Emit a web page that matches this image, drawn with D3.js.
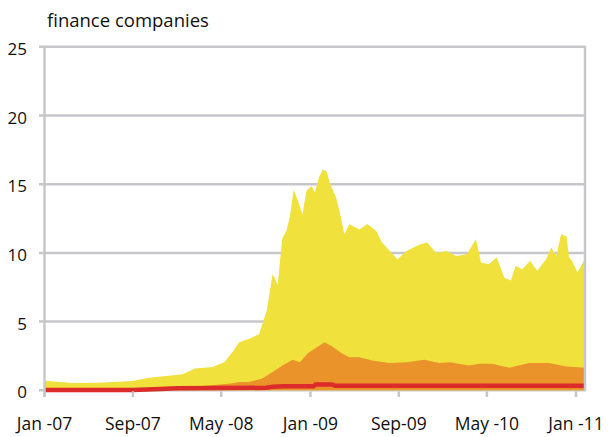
<!DOCTYPE html>
<html>
<head>
<meta charset="utf-8">
<script src="https://cdn.jsdelivr.net/npm/d3@7"></script>
<style>
  body { margin: 0; background: #fff; }
  text { font-family: "Open Sans", sans-serif; fill: #111; }
</style>
</head>
<body>
<div id="chart"></div>
<script>
// Tick labels as printed on the chart
var tickDates = ["2007-01-01", "2007-09-01", "2008-05-01", "2009-01-01", "2009-09-01", "2010-05-01", "2011-01-01"];
var tickLabels = ["Jan -07", "Sep-07", "May -08", "Jan -09", "Sep-09", "May -10", "Jan -11"];
var yTicks = [0, 5, 10, 15, 20, 25];

// Yellow series (top envelope)
var yellowDates = ["2007-01-02", "2007-03-18", "2007-06-01", "2007-08-31", "2007-10-16", "2008-01-16",
  "2008-02-18", "2008-04-07", "2008-05-09", "2008-06-01", "2008-06-19", "2008-07-16", "2008-08-13",
  "2008-09-03", "2008-09-19", "2008-10-03", "2008-10-16", "2008-10-27", "2008-11-06", "2008-11-16", "2008-12-03",
  "2008-12-10", "2008-12-21", "2009-01-04", "2009-01-13", "2009-01-24", "2009-02-04", "2009-02-15",
  "2009-02-23", "2009-03-13", "2009-03-26", "2009-04-04", "2009-04-18", "2009-05-16", "2009-06-06",
  "2009-07-01", "2009-07-17", "2009-08-12", "2009-08-28", "2009-09-22", "2009-10-27", "2009-11-18",
  "2009-12-13", "2010-01-10", "2010-02-06", "2010-03-07", "2010-04-01", "2010-04-15", "2010-05-06",
  "2010-05-28", "2010-06-18", "2010-07-06", "2010-07-19", "2010-08-06", "2010-08-28", "2010-09-16",
  "2010-10-11", "2010-10-25", "2010-11-08", "2010-11-21", "2010-12-06", "2010-12-13", "2010-12-21",
  "2011-01-05", "2011-01-25"];
var yellowValues = [0.70, 0.53, 0.55, 0.67, 0.92, 1.16,
  1.59, 1.69, 2.05, 2.78, 3.50, 3.74, 4.10,
  5.80, 8.46, 7.70, 11.1, 11.6, 12.7, 14.6, 13.4,
  12.8, 14.5, 14.86, 14.4, 15.46, 16.07, 15.9,
  15.1, 14.0, 12.56, 11.36, 12.08, 11.7, 12.1,
  11.6, 10.75, 10.0, 9.54, 10.14, 10.6, 10.75,
  10.0, 10.14, 9.78, 9.9, 11.0, 9.3, 9.18,
  9.66, 8.2, 8.0, 9.06, 8.8, 9.42, 8.7,
  9.54, 10.4, 9.78, 11.36, 11.2, 9.66, 9.42,
  8.57, 9.54];

// Orange series
var orangeDates = ["2007-01-02", "2007-10-16", "2007-12-02", "2008-03-02", "2008-05-28", "2008-06-19",
  "2008-07-16", "2008-08-22", "2008-09-19", "2008-10-16", "2008-11-13", "2008-12-03", "2008-12-25",
  "2009-01-19", "2009-02-09", "2009-03-02", "2009-03-28", "2009-04-18", "2009-05-16", "2009-06-19",
  "2009-08-06", "2009-09-22", "2009-11-10", "2009-12-22", "2010-01-19", "2010-03-13", "2010-04-09",
  "2010-05-15", "2010-07-01", "2010-08-25", "2010-10-19", "2010-12-06", "2011-01-25"];
var orangeValues = [0.05, 0.10, 0.20, 0.30, 0.50, 0.60,
  0.60, 0.85, 1.33, 1.81, 2.22, 2.05, 2.70,
  3.14, 3.50, 3.19, 2.70, 2.41, 2.41, 2.17,
  1.98, 2.05, 2.22, 1.98, 2.05, 1.81, 1.93,
  1.93, 1.64, 1.98, 1.98, 1.74, 1.64];

// Red series
var redDates = ["2007-01-02", "2007-09-01", "2007-11-15", "2008-01-01", "2008-09-01", "2008-09-20",
  "2008-10-20", "2009-01-10", "2009-01-15", "2009-03-01", "2009-03-10", "2011-01-25"];
var redValues = [0.02, 0.02, 0.10, 0.15, 0.18, 0.25,
  0.30, 0.30, 0.43, 0.43, 0.33, 0.33];

var svgWidth = 608;
var svgHeight = 437;

var parse = d3.timeParse("%Y-%m-%d");

var svg = d3.select("#chart")
  .append("svg")
  .attr("width", svgWidth)
  .attr("height", svgHeight);

var xScale = d3.scaleTime()
  .domain([parse("2007-01-01"), parse("2011-01-01")])
  .range([44.5, 576]);

var yScale = d3.scaleLinear()
  .domain([0, 25])
  .range([390.3, 46.8]);

var frameRight = 585;
var gridColor = "#c7c7cb";

// horizontal gridlines
svg.append("g")
  .selectAll("line")
  .data(yTicks)
  .enter()
  .append("line")
  .attr("x1", 39)
  .attr("x2", frameRight)
  .attr("y1", d => yScale(d))
  .attr("y2", d => yScale(d))
  .attr("stroke", gridColor)
  .attr("stroke-width", 2.5);

// y labels
svg.append("g")
  .selectAll("text")
  .data(yTicks)
  .enter()
  .append("text")
  .attr("x", 27)
  .attr("y", d => yScale(d) + 8)
  .attr("text-anchor", "end")
  .attr("font-size", "17px")
  .text(d => d);

// series
function toPoints(dates, values) {
  return dates.map((d, i) => ({ date: parse(d), value: values[i] }));
}

var area = d3.area()
  .x(d => xScale(d.date))
  .y0(yScale(0))
  .y1(d => yScale(d.value));

svg.append("path")
  .datum(toPoints(yellowDates, yellowValues))
  .attr("d", area)
  .attr("fill", "#f0e13c");

svg.append("path")
  .datum(toPoints(orangeDates, orangeValues))
  .attr("d", area)
  .attr("fill", "#ea932b");

var line = d3.line()
  .x(d => xScale(d.date))
  .y(d => yScale(d.value));

svg.append("path")
  .datum(toPoints(redDates, redValues))
  .attr("d", line)
  .attr("fill", "none")
  .attr("stroke", "#dc2b2b")
  .attr("stroke-width", 4.5);

// frame: left axis and right border
svg.append("line")
  .attr("x1", 44.5).attr("x2", 44.5)
  .attr("y1", yScale(25) - 1).attr("y2", 397)
  .attr("stroke", gridColor).attr("stroke-width", 2.5);

svg.append("line")
  .attr("x1", frameRight).attr("x2", frameRight)
  .attr("y1", yScale(25) - 1).attr("y2", yScale(0) + 1)
  .attr("stroke", gridColor).attr("stroke-width", 2.5);

// x ticks
var xTickG = svg.append("g")
  .selectAll("g")
  .data(tickDates)
  .enter()
  .append("g")
  .attr("transform", d => `translate(${xScale(parse(d))}, 0)`);

xTickG.append("line")
  .attr("y1", yScale(0) + 1)
  .attr("y2", 397)
  .attr("stroke", gridColor)
  .attr("stroke-width", 2.5);

xTickG.append("text")
  .attr("y", 430)
  .attr("text-anchor", "middle")
  .attr("font-size", "17.5px")
  .text((d, i) => tickLabels[i]);

// title
svg.append("text")
  .attr("x", 47)
  .attr("y", 27)
  .attr("font-size", "18.5px")
  .text("finance companies");
</script>
</body>
</html>
